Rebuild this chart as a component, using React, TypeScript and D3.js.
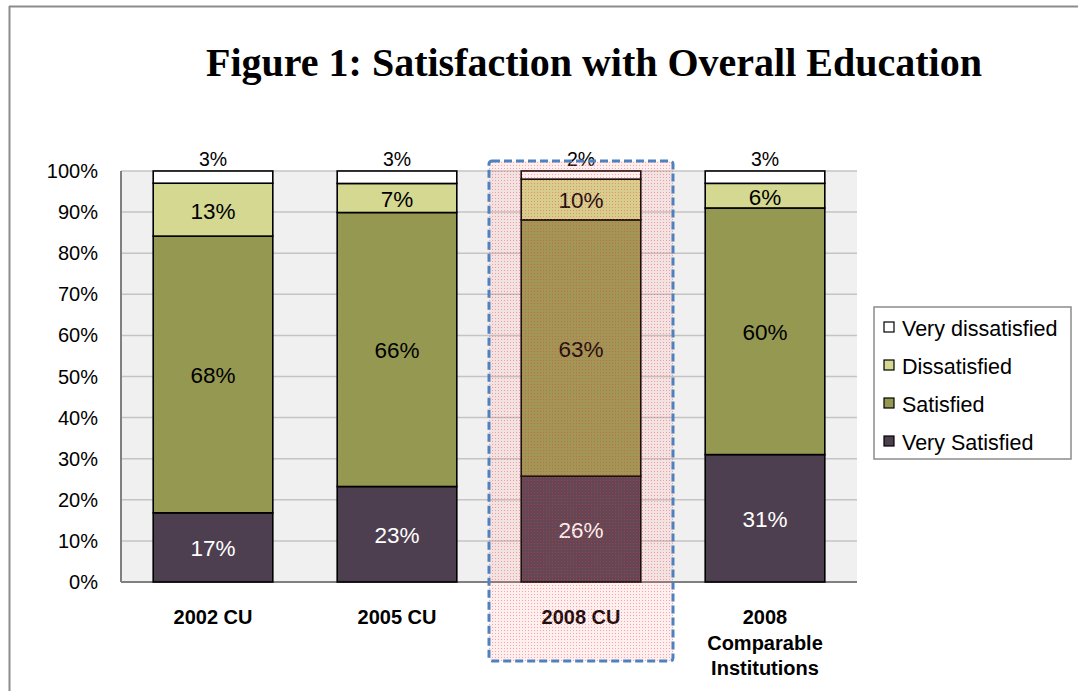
import React from "react";
import * as d3 from "d3";

const categories = ["2002 CU", "2005 CU", "2008 CU", "2008 Comparable Institutions"];
const categoryLines = [["2002 CU"], ["2005 CU"], ["2008 CU"], ["2008", "Comparable", "Institutions"]];
const seriesNames = ["Very Satisfied", "Satisfied", "Dissatisfied", "Very dissatisfied"];
const verySatisfied = [17, 23, 26, 31];
const satisfied = [68, 66, 63, 60];
const dissatisfied = [13, 7, 10, 6];
const veryDissatisfied = [3, 3, 2, 3];
const seriesColors = ["#4e3f50", "#959850", "#d4d890", "#ffffff"];
const yTicks = [0, 0.1, 0.2, 0.3, 0.4, 0.5, 0.6, 0.7, 0.8, 0.9, 1.0];

const W = 1078, H = 691;
const M = { left: 121, right: 857, top: 171, bottom: 582 };

export default function App() {
  const rows = categories.map((c, i) => ({
    cat: c,
    "Very Satisfied": verySatisfied[i],
    "Satisfied": satisfied[i],
    "Dissatisfied": dissatisfied[i],
    "Very dissatisfied": veryDissatisfied[i],
  }));
  const stacked = d3.stack<any>().keys(seriesNames).offset(d3.stackOffsetExpand)(rows);
  const x = d3.scaleBand().domain(categories).range([M.left, M.right]).paddingInner(0.35).paddingOuter(0.175);
  const y = d3.scaleLinear().domain([0, 1]).range([M.bottom, M.top]);
  const fmt = d3.format(".0%");

  return (
    <svg width={W} height={H} style={{ position: "absolute", left: 0, top: 0, fontFamily: "Arial, 'Liberation Sans', sans-serif" }}>
      <defs>
        <pattern id="dots" width="3" height="3" patternUnits="userSpaceOnUse">
          <rect width="3" height="3" fill="rgba(255,120,120,0.12)" />
          <rect width="1" height="1" fill="rgba(230,60,60,0.4)" />
        </pattern>
      </defs>
      <rect x={0} y={0} width={W} height={H} fill="#fff" />
      <line x1={9.5} y1={6} x2={9.5} y2={H} stroke="#8c8c8c" strokeWidth={2} />
      <line x1={9} y1={6.5} x2={W} y2={6.5} stroke="#8c8c8c" strokeWidth={2} />
      <text x={594} y={76} textAnchor="middle" fontFamily="'Liberation Serif', 'Times New Roman', serif" fontWeight="bold" fontSize={40}>
        Figure 1: Satisfaction with Overall Education
      </text>
      <rect x={M.left} y={M.top} width={M.right - M.left} height={M.bottom - M.top} fill="#f0f0f0" />
      {yTicks.map((t) => (
        <g key={t}>
          {t > 0 && <line x1={M.left} x2={M.right} y1={y(t)} y2={y(t)} stroke="#c4c4c4" strokeWidth={1.5} />}
          <text x={98} y={y(t)} dy="0.35em" textAnchor="end" fontSize={20} fill="#000">{fmt(t)}</text>
        </g>
      ))}
      <line x1={M.left} x2={M.left} y1={M.top} y2={M.bottom} stroke="#808080" strokeWidth={2} />
      <line x1={M.left} x2={M.right} y1={M.bottom} y2={M.bottom} stroke="#808080" strokeWidth={2} />
      {stacked.map((s, si) => (
        <g key={s.key}>
          {s.map((d, i) => (
            <rect key={i} x={x(categories[i])} y={y(d[1])} width={x.bandwidth()} height={y(d[0]) - y(d[1])}
              fill={seriesColors[si]} stroke="#000" strokeWidth={1.6} />
          ))}
        </g>
      ))}
      {stacked.map((s, si) => (
        <g key={"l" + s.key}>
          {s.map((d, i) => {
            const v = (rows[i] as any)[s.key];
            const cx = x(categories[i])! + x.bandwidth() / 2;
            const cy = si === 3 ? y(1) - 12 : (y(d[0]) + y(d[1])) / 2 + 1;
            return (
              <text key={i} x={cx} y={cy} dy="0.35em" textAnchor="middle" fontSize={si === 3 ? 19.5 : 22.5}
                fill={si === 0 ? "#fff" : "#000"}>{v}%</text>
            );
          })}
        </g>
      ))}
      {categoryLines.map((lines, i) => (
        <text key={i} x={x(categories[i])! + x.bandwidth() / 2} y={624} textAnchor="middle" fontWeight="bold" fontSize={20}>
          {lines.map((l, j) => (
            <tspan key={j} x={x(categories[i])! + x.bandwidth() / 2} dy={j === 0 ? 0 : 25.5}>{l}</tspan>
          ))}
        </text>
      ))}
      <rect x={489} y={161} width={184} height={500} rx={3} fill="url(#dots)" stroke="#4f81bd" strokeWidth={3} strokeDasharray="8 4" />
      <g>
        <rect x={874} y={307} width={197} height={152} fill="#fff" stroke="#8c8c8c" strokeWidth={1.5} />
        {[3, 2, 1, 0].map((si, k) => (
          <g key={si}>
            <rect x={884} y={322 + k * 38} width={10} height={10} fill={seriesColors[si]} stroke="#000" strokeWidth={1.2} />
            <text x={902} y={328 + k * 38} dy="0.35em" fontSize={21.5}>{seriesNames[si]}</text>
          </g>
        ))}
      </g>
    </svg>
  );
}
